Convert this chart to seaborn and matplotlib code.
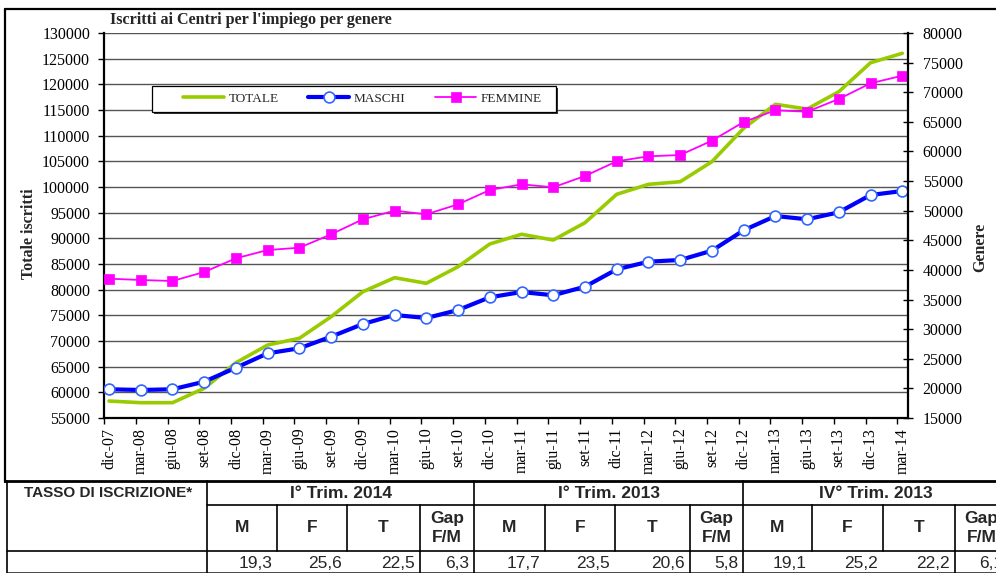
import numpy as np
import pandas as pd
import matplotlib
matplotlib.use("Agg")
import matplotlib.pyplot as plt
from matplotlib.lines import Line2D
from matplotlib.patches import Rectangle
import seaborn as sns

# Quarterly registrations at employment centres
periods = ["dic-07", "mar-08", "giu-08", "set-08", "dic-08", "mar-09", "giu-09",
           "set-09", "dic-09", "mar-10", "giu-10", "set-10", "dic-10", "mar-11",
           "giu-11", "set-11", "dic-11", "mar-12", "giu-12", "set-12", "dic-12",
           "mar-13", "giu-13", "set-13", "dic-13", "mar-14"]
totale = [58310, 57980, 57980, 60790, 65770, 69220, 70530, 74730, 79600, 82330,
          81240, 84470, 88900, 90790, 89670, 93040, 98580, 100520, 101030,
          104930, 111430, 116110, 115190, 118560, 124210, 126040]
maschi = [19850, 19730, 19850, 21130, 23490, 25920, 26770, 28730, 30870, 32390,
          31880, 33230, 35380, 36270, 35720, 37170, 40100, 41390, 41680, 43250,
          46690, 49100, 48550, 49730, 52650, 53320]
femmine = [38520, 38300, 38130, 39650, 41960, 43360, 43750, 46010, 48550, 50000,
           49390, 51080, 53490, 54450, 53950, 55860, 58340, 59180, 59400, 61820,
           64970, 66950, 66710, 68860, 71510, 72790]

# Registration rate table
table_title = "TASSO DI ISCRIZIONE*"
table_groups = ["I° Trim. 2014", "I° Trim. 2013", "IV° Trim. 2013"]
table_cols = ["M", "F", "T", "Gap\nF/M"]
table_values = [[19.3, 25.6, 22.5, 6.3],
                [17.7, 23.5, 20.6, 5.8],
                [19.1, 25.2, 22.2, 6.1]]

W, H = 996, 573


def fx(px):
    return px / W


def fy(py):
    return 1 - py / H


sns.set_theme(style="white")
plt.rcParams["font.family"] = ["Liberation Serif", "DejaVu Serif"]

fig = plt.figure(figsize=(W / 100, H / 100), dpi=100)
ax = fig.add_axes([fx(104), fy(418), fx(908) - fx(104), fy(33) - fy(418)])
ax2 = ax.twinx()

df = pd.DataFrame({"idx": np.arange(len(periods)), "periodo": periods,
                   "TOTALE": totale, "MASCHI": maschi, "FEMMINE": femmine})

sns.lineplot(data=df, x="idx", y="TOTALE", ax=ax, color="#99CC00", lw=2.6,
             legend=False)
sns.lineplot(data=df, x="idx", y="MASCHI", ax=ax2, color="#0000FF", lw=3.0,
             marker="o", markersize=7.8, markerfacecolor="white",
             markeredgecolor="#3366FF", markeredgewidth=1.2, legend=False)
sns.lineplot(data=df, x="idx", y="FEMMINE", ax=ax2, color="#FF00FF", lw=1.3,
             marker="s", markersize=7.2, markerfacecolor="#FF00FF",
             markeredgecolor="#FF00FF", markeredgewidth=0.5, legend=False)

l_tot = ax.lines[0]
l_mas, l_fem = ax2.lines[0], ax2.lines[1]

# Axes ranges and ticks
n = len(periods)
ax.set_xlim(-0.158, 25.18)
ax.set_ylim(55000, 130000)
ax.set_yticks(np.arange(55000, 130001, 5000))
ax2.set_ylim(15000, 80000)
ax2.set_yticks(np.arange(15000, 80001, 5000))

ax.set_xticks(np.arange(n) - 0.155)
ax.set_xticklabels([])
ax.set_xticks(np.arange(n), minor=True)
ax.set_xticklabels(periods, minor=True, rotation=90)
ax.tick_params(axis="x", which="major", bottom=True, direction="out",
               length=4, width=1, color="black")
ax.tick_params(axis="x", which="minor", bottom=True, length=0, pad=7,
               labelsize=11.5, labelcolor="black")
ax.tick_params(axis="y", left=True, direction="out", length=4, width=1,
               color="black", pad=6, labelsize=11.5, labelcolor="black")
ax2.tick_params(axis="y", right=True, direction="inout", length=7, width=1,
                color="black", pad=7, labelsize=11.5, labelcolor="black")

ax.set_xlabel("")
ax.set_ylabel("")
ax2.set_ylabel("")

ax.yaxis.grid(True, color="#555555", lw=1)
ax.xaxis.grid(False)
ax.set_axisbelow(True)

for name, sp in ax.spines.items():
    sp.set_visible(name in ("left", "bottom"))
    sp.set_color("black")
    sp.set_linewidth(1.6)
for name, sp in ax2.spines.items():
    sp.set_visible(name == "right")
    sp.set_color("black")
    sp.set_linewidth(1.6)

# Legend box with a small drop shadow, entries laid out inside it
fig.add_artist(Rectangle((fx(154), fy(114)), fx(556) - fx(152),
                         fy(86) - fy(112), transform=fig.transFigure,
                         facecolor="#333333", edgecolor="none", zorder=3))
fig.add_artist(Rectangle((fx(152), fy(112)), fx(556) - fx(152),
                         fy(86) - fy(112), transform=fig.transFigure,
                         facecolor="white", edgecolor="black", lw=0.9,
                         zorder=4))
leg = fig.legend([l_tot, l_mas, l_fem], ["TOTALE", "MASCHI", "FEMMINE"],
                 ncol=3, loc="center left", bbox_to_anchor=(fx(183), fy(99)),
                 fontsize=9.5, handlelength=3.1, handletextpad=0.35,
                 borderpad=0, borderaxespad=0, columnspacing=2.25,
                 frameon=False)
leg.set_zorder(5)

# Titles and axis names
fig.text(fx(110), fy(20), "Iscritti ai Centri per l'impiego per genere",
         fontsize=11.6, fontweight="bold", va="center", ha="left")
fig.text(fx(29), fy(234), "Totale iscritti", rotation=90, fontsize=11.5,
         fontweight="bold", va="center", ha="center")
fig.text(fx(980), fy(247), "Genere", rotation=90, fontsize=11.5,
         fontweight="bold", va="center", ha="center")


def hline(x0, x1, y, lw=1.2):
    fig.add_artist(Line2D([fx(x0), fx(x1)], [fy(y), fy(y)], color="black",
                          lw=lw, transform=fig.transFigure))


def vline(x, y0, y1, lw=1.2):
    fig.add_artist(Line2D([fx(x), fx(x)], [fy(y0), fy(y1)], color="black",
                          lw=lw, transform=fig.transFigure))


# Outer frame of the chart
vline(5, 9, 482, lw=1.6)
hline(5, 1000, 9, lw=1.6)
hline(5, 1000, 481, lw=2.0)

# Table grid
sans = ["Liberation Sans Narrow", "Liberation Sans", "DejaVu Sans"]
vline(7, 481, 580)
vline(207, 481, 580)
hline(207, 1000, 505)
hline(7, 1000, 551)
hline(7, 1000, 572, lw=0.5)

sub_edges = [[207, 277, 347, 420, 474],
             [474, 545, 615, 690, 743],
             [743, 812, 883, 955, 1008]]

fig.text(fx(108), fy(493), table_title, family=sans, fontsize=11,
         fontweight="bold", ha="center", va="center")

for g, name in enumerate(table_groups):
    edges = sub_edges[g]
    vline(edges[-1], 481, 580)
    for e in edges[1:-1]:
        vline(e, 505, 551)
    vline(edges[3], 551, 580)
    fig.text(fx((edges[0] + edges[-1]) / 2), fy(493), name, family=sans,
             fontsize=12.5, fontweight="bold", ha="center", va="center")
    for c, col in enumerate(table_cols):
        cx = (edges[c] + edges[c + 1]) / 2
        fig.text(fx(cx), fy(528), col, family=sans, fontsize=12.5,
                 fontweight="bold", ha="center", va="center",
                 linespacing=1.25)
        txt = f"{table_values[g][c]:.1f}".replace(".", ",")
        fig.text(fx(edges[c + 1] - 5), fy(563), txt, family=sans,
                 fontsize=12.5, ha="right", va="center")

fig.savefig("out.png", dpi=100)
